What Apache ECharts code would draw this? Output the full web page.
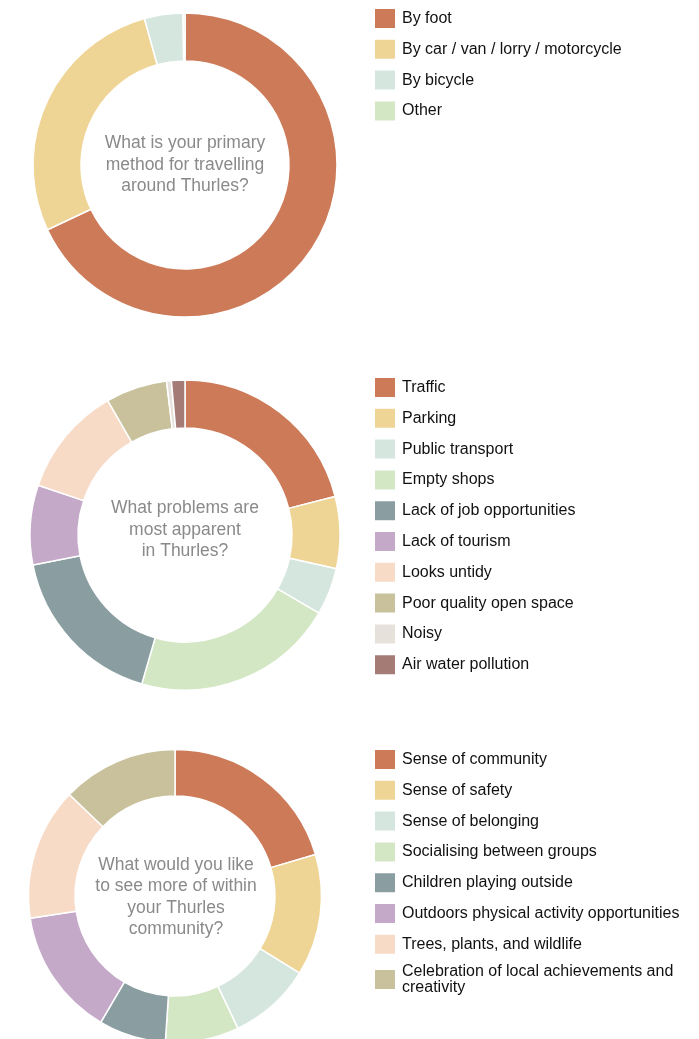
<!DOCTYPE html>
<html>
<head>
<meta charset="utf-8">
<script src="https://cdn.jsdelivr.net/npm/echarts@6/dist/echarts.min.js"></script>
<style>
html,body{margin:0;padding:0;background:#fff;}
#c{width:699px;height:1039px;}
</style>
</head>
<body>
<div id="c"></div>
<script>
// Chart 1: travel method
const travelCategories = ['By foot', 'By car / van / lorry / motorcycle', 'By bicycle', 'Other'];
const travelValues = [68, 27.7, 4.1, 0.2];
const travelQuestion = ['What is your primary', 'method for travelling', 'around Thurles?'];

// Chart 2: problems
const problemCategories = ['Traffic', 'Parking', 'Public transport', 'Empty shops', 'Lack of job opportunities', 'Lack of tourism', 'Looks untidy', 'Poor quality open space', 'Noisy', 'Air water pollution'];
const problemValues = [21, 7.5, 4.9, 21.1, 17.4, 8.3, 11.5, 6.4, 0.5, 1.4];
const problemQuestion = ['What problems are', 'most apparent', 'in Thurles?'];

// Chart 3: community wishes
const communityCategories = ['Sense of community', 'Sense of safety', 'Sense of belonging', 'Socialising between groups', 'Children playing outside', 'Outdoors physical activity opportunities', 'Trees, plants, and wildlife', 'Celebration of local achievements and creativity'];
const communityValues = [20.4, 13.4, 9.1, 8.1, 7.4, 14.1, 14.6, 12.8];
const communityQuestion = ['What would you like', 'to see more of within', 'your Thurles', 'community?'];

const palette = ['#cc7a58', '#efd595', '#d5e6df', '#d4e7c5', '#8a9ea2', '#c4a9c9', '#f7dbc7', '#c8c19c', '#e6e1db', '#a47b75'];

const FONT = '"Liberation Sans", Arial, sans-serif';

function pieData(cats, vals) {
  return cats.map((c, i) => ({ name: c, value: vals[i], itemStyle: { color: palette[i] } }));
}

function pieSeries(cats, vals, cx, cy, rOut, rIn) {
  return {
    type: 'pie',
    center: [cx, cy],
    radius: [rIn, rOut],
    startAngle: 90,
    clockwise: true,
    avoidLabelOverlap: false,
    label: { show: false },
    labelLine: { show: false },
    emphasis: { disabled: true },
    silent: true,
    animation: false,
    itemStyle: { borderColor: '#fff', borderWidth: 1.5 },
    data: pieData(cats, vals)
  };
}

function legend(cats, top, textExtra) {
  return {
    orient: 'vertical',
    left: 373,
    top: top,
    padding: 0,
    icon: 'rect',
    itemWidth: 22,
    itemHeight: 21,
    itemGap: 7.8,
    selectedMode: false,
    data: cats,
    textStyle: Object.assign({ fontFamily: FONT, fontSize: 16, lineHeight: 21, color: '#111', padding: [0, 0, 0, 1] }, textExtra || {})
  };
}

function centerText(lines, x, y) {
  return {
    type: 'text',
    x: x,
    y: y,
    style: {
      text: lines.join('\n'),
      fontFamily: FONT,
      fontSize: 17.5,
      lineHeight: 21.5,
      fill: '#8a8a8a',
      align: 'center',
      verticalAlign: 'middle'
    }
  };
}

const chart = echarts.init(document.getElementById('c'), null, { renderer: 'canvas' });
chart.setOption({
  animation: false,
  backgroundColor: '#fff',
  legend: [
    legend(travelCategories, 7),
    legend(problemCategories, 376),
    legend(communityCategories, 748, { width: 285, overflow: 'break', lineHeight: 16 })
  ],
  series: [
    pieSeries(travelCategories, travelValues, 185, 165, 152, 104),
    pieSeries(problemCategories, problemValues, 185, 535, 155, 107),
    pieSeries(communityCategories, communityValues, 175, 896, 146.5, 100)
  ],
  graphic: [
    centerText(travelQuestion, 185, 165),
    centerText(problemQuestion, 185, 530),
    centerText(communityQuestion, 176, 897)
  ]
});
</script>
</body>
</html>
